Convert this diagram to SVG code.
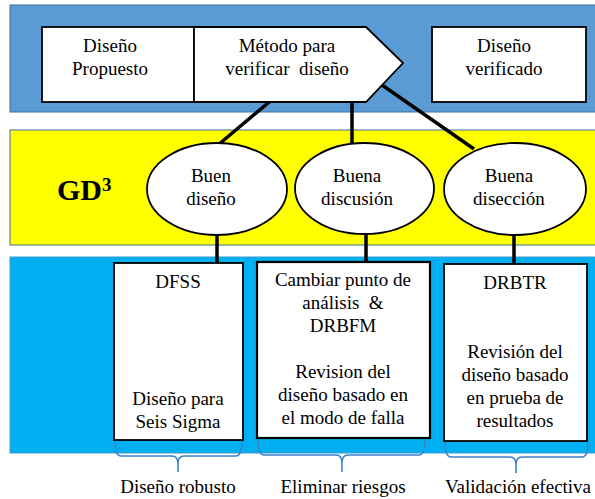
<svg xmlns="http://www.w3.org/2000/svg" width="595" height="499" viewBox="0 0 595 499">
<style>
text{font-family:"Liberation Serif","Times New Roman",serif;font-size:19px;fill:#000;text-anchor:middle}
.box{fill:#fff;stroke:#000;stroke-width:1.8}
.conn{stroke:#000;stroke-width:3.5;fill:none}
.brace{stroke:#3C82CC;stroke-width:1.6;fill:none}
</style>
<rect x="10" y="5" width="590" height="107" fill="#5B9BD5" stroke="#41719C" stroke-width="1"/>
<rect x="10" y="130" width="590" height="115" fill="#FFFF00" stroke="#41719C" stroke-width="1"/>
<rect x="10" y="257" width="590" height="196" fill="#00B0F0" stroke="#3A9BD0" stroke-width="1"/>

<g id="connectors">
<line class="conn" x1="287" y1="87" x2="218" y2="145"/>
<line class="conn" x1="352" y1="102" x2="352" y2="145"/>
<line class="conn" x1="382" y1="85" x2="474" y2="149"/>
<line class="conn" x1="217" y1="234" x2="217" y2="263"/>
<line class="conn" x1="366" y1="233" x2="366" y2="262"/>
<line class="conn" x1="514" y1="234" x2="514" y2="264"/>
</g>

<g id="n-propuesto">
<rect class="box" x="42" y="27" width="152" height="75"/>
<text x="110" y="52">Diseño</text>
<text x="110" y="75">Propuesto</text>
</g>
<g id="n-metodo">
<path class="box" d="M194,27 H366 L403,63 L366,102 H194 Z"/>
<text x="287" y="52">Método para</text>
<text x="287" y="75" xml:space="preserve">verificar  diseño</text>
</g>
<g id="n-verificado">
<rect class="box" x="432" y="27" width="154" height="75"/>
<text x="504" y="52">Diseño</text>
<text x="504" y="75">verificado</text>
</g>

<g id="n-gd3">
<text x="57" y="200" style="font-size:30px;font-weight:bold;text-anchor:start">GD<tspan dy="-9" style="font-size:19px">3</tspan></text>
</g>

<g id="n-buen-diseno">
<ellipse class="box" cx="217" cy="189" rx="70" ry="46"/>
<text x="211" y="182">Buen</text>
<text x="211" y="205">diseño</text>
</g>
<g id="n-buena-discusion">
<ellipse class="box" cx="364.5" cy="188.5" rx="69.5" ry="45.5"/>
<text x="357" y="182">Buena</text>
<text x="357" y="205">discusión</text>
</g>
<g id="n-buena-diseccion">
<ellipse class="box" cx="515" cy="189" rx="71" ry="46"/>
<text x="509" y="182">Buena</text>
<text x="509" y="205">disección</text>
</g>

<g id="n-dfss">
<rect class="box" x="114" y="263" width="129" height="177"/>
<text x="178" y="288">DFSS</text>
<text x="178" y="405">Diseño para</text>
<text x="178" y="428">Seis Sigma</text>
</g>
<g id="n-drbfm">
<rect class="box" x="257" y="262" width="173" height="176" style="stroke-width:2.2"/>
<text x="343" y="286">Cambiar punto de</text>
<text x="343" y="309" xml:space="preserve">análisis  &amp;</text>
<text x="343" y="332">DRBFM</text>
<text x="343" y="378">Revision del</text>
<text x="343" y="401">diseño basado en</text>
<text x="343" y="424">el modo de falla</text>
</g>
<g id="n-drbtr">
<rect class="box" x="444" y="264" width="143" height="177"/>
<text x="515" y="289">DRBTR</text>
<text x="515" y="358">Revisión del</text>
<text x="515" y="381">diseño basado</text>
<text x="515" y="404">en prueba de</text>
<text x="515" y="427">resultados</text>
</g>

<g id="n-robusto">
<path class="brace" d="M115,441 Q115,456 121,456 H172 Q178,456 178,464 V472 M178,464 Q178,456 184,456 H236 Q242,456 242,441"/>
<text x="178" y="493">Diseño robusto</text>
</g>
<g id="n-riesgos">
<path class="brace" d="M258,439 Q258,455 264,455 H336 Q342,455 342,463 V472 M342,463 Q342,455 348,455 H419 Q425,455 425,439"/>
<text x="343" y="493">Eliminar riesgos</text>
</g>
<g id="n-validacion">
<path class="brace" d="M445,442 Q445,457 451,457 H510 Q516,457 516,465 V473 M516,465 Q516,457 522,457 H582 Q588,457 588,442"/>
<text x="518" y="493">Validación efectiva</text>
</g>
</svg>
